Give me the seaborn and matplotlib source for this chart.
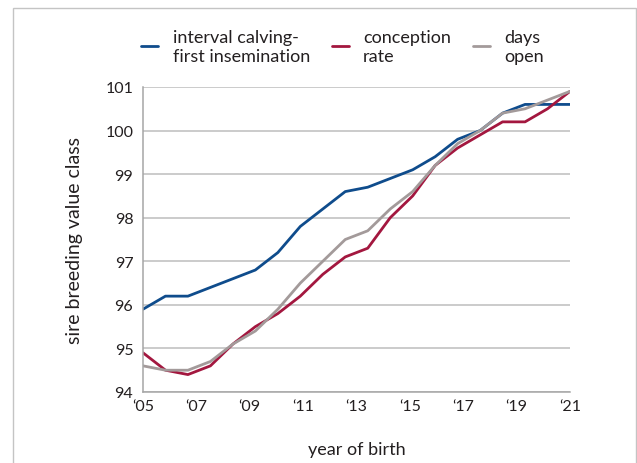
import numpy as np
import pandas as pd
import seaborn as sns
import matplotlib.pyplot as plt
from matplotlib.patches import Rectangle

# sire breeding value class per birth cohort, 2005 - 2021 (20 samples)
interval_cfi = [95.9, 96.2, 96.2, 96.4, 96.6, 96.8, 97.2, 97.8, 98.2, 98.6,
                98.7, 98.9, 99.1, 99.4, 99.8, 100.0, 100.4, 100.6, 100.6, 100.6]
conception = [94.9, 94.5, 94.4, 94.6, 95.1, 95.5, 95.8, 96.2, 96.7, 97.1,
              97.3, 98.0, 98.5, 99.2, 99.6, 99.9, 100.2, 100.2, 100.5, 100.9]
days_open = [94.6, 94.5, 94.5, 94.7, 95.1, 95.4, 95.9, 96.5, 97.0, 97.5,
             97.7, 98.2, 98.6, 99.2, 99.7, 100.0, 100.4, 100.5, 100.7, 100.9]
series_names = ['interval calving-\nfirst insemination', 'conception\nrate', 'days\nopen']
year_ticks = list(range(2005, 2022))
year_labels = ['\u2018' + str(y)[2:] if y % 2 == 1 else '' for y in year_ticks]

x = np.linspace(2005, 2021, len(interval_cfi))
df = pd.DataFrame({
    'year': np.concatenate([x, x, x]),
    'value': interval_cfi + conception + days_open,
    'series': np.repeat(series_names, len(x)),
})

sns.set_style('white')
plt.rcParams['font.family'] = ['Lato', 'DejaVu Sans']
text_col = '#231f20'
axis_col = '#a6a6a6'
palette = {series_names[0]: '#0f4c8c', series_names[1]: '#a3173f', series_names[2]: '#a39a9a'}

fig = plt.figure(figsize=(6.37, 4.64), dpi=100)
ax = fig.add_axes([143 / 637, 1 - 393 / 464, (570 - 143) / 637, (393 - 88) / 464])

sns.lineplot(data=df, x='year', y='value', hue='series', palette=palette,
             linewidth=2.0, ax=ax, legend=False)

ax.set_xlim(2005, 2021)
ax.set_ylim(94, 101)
ax.set_yticks(range(94, 102))
ax.set_xticks(year_ticks)
ax.set_xticklabels(year_labels)
ax.grid(axis='y', color='#bdbdbd', linewidth=1.1)
ax.set_axisbelow(True)
for s in ['top', 'right']:
    ax.spines[s].set_visible(False)
for s in ['left', 'bottom']:
    ax.spines[s].set_color(axis_col)
    ax.spines[s].set_linewidth(1.1)
ax.tick_params(axis='x', direction='in', length=4, color=axis_col, pad=5,
               labelsize=11.5, labelcolor=text_col)
ax.tick_params(axis='y', length=0, pad=7, labelsize=11.5, labelcolor=text_col)
ax.set_xlabel('year of birth', fontsize=13, color=text_col, labelpad=20)
ax.set_ylabel('sire breeding value class', fontsize=14, color=text_col, labelpad=16)

handles = [plt.Line2D([], [], color=palette[n], linewidth=2.0) for n in series_names]
fig.legend(handles, series_names, loc='upper left', bbox_to_anchor=(141 / 637, 1 - 30 / 464),
           ncol=3, frameon=False, fontsize=13, handlelength=0.95, handletextpad=0.8,
           columnspacing=1.2, borderpad=0, borderaxespad=0, labelspacing=0,
           labelcolor=text_col)

# thin page frame
fig.patches.append(Rectangle((13 / 637, -0.1), (636 - 13) / 637, 1.1 - 9 / 464,
                             transform=fig.transFigure, fill=False,
                             edgecolor='#c4c4c4', linewidth=1.0))

fig.savefig('out.png', dpi=100)
